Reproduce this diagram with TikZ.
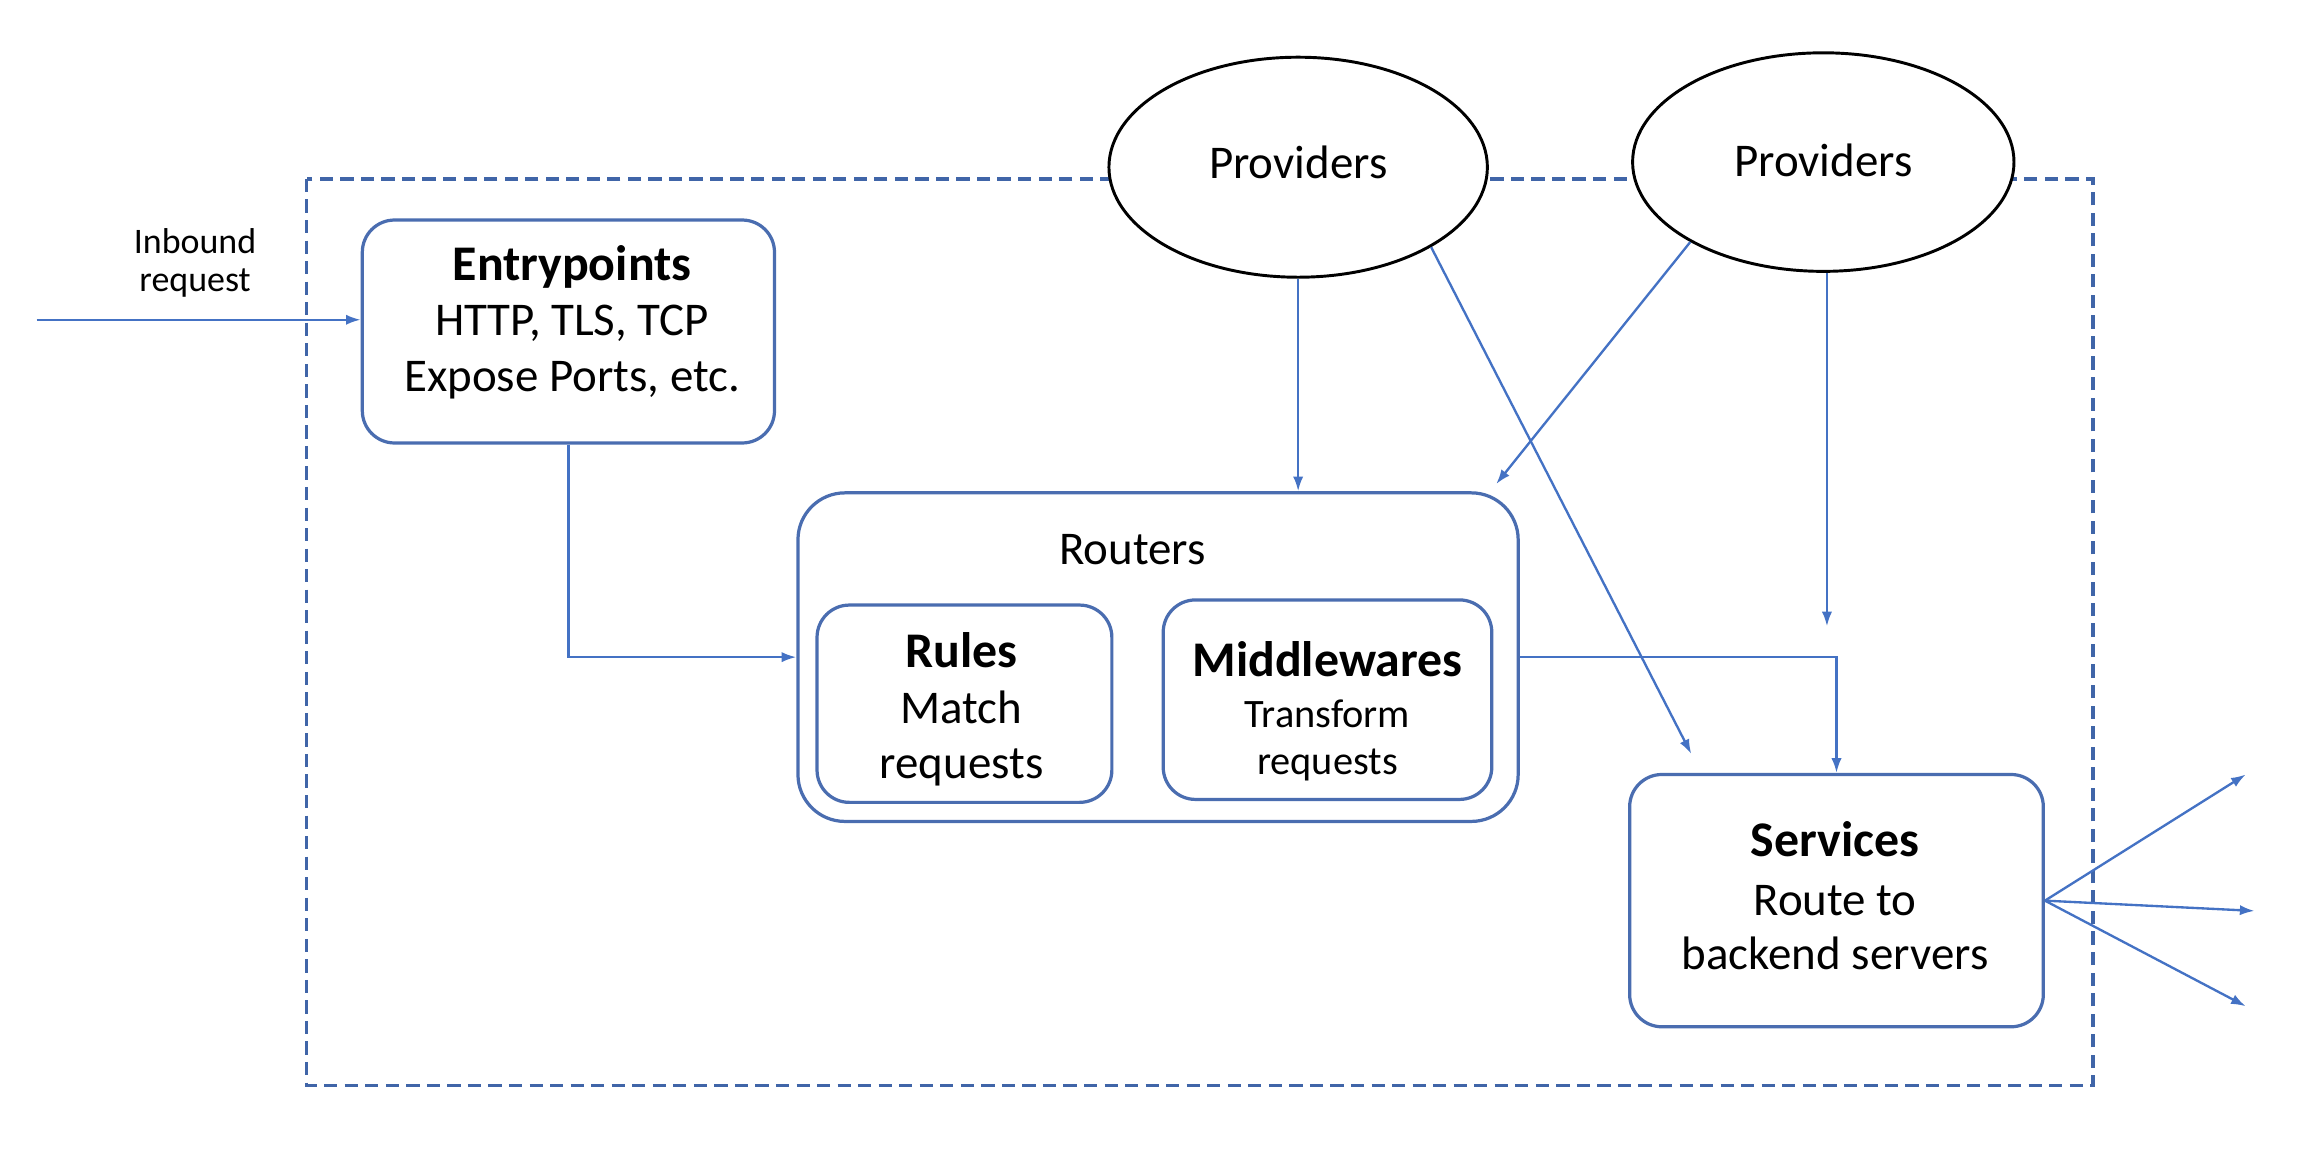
\documentclass[tikz,border=0pt]{standalone}
\usepackage{fontspec}
\setmainfont{Carlito}
\usetikzlibrary{arrows.meta,calc,shapes.geometric}
\definecolor{boxblue}{HTML}{4A6DB0}
\definecolor{arrblue}{HTML}{4472C4}
\definecolor{dashblue}{HTML}{4065A8}
\tikzset{
  rbox/.style={draw=boxblue, line width=2.2pt, rounded corners=22pt, fill=white, inner sep=0pt},
  txt/.style={align=center, inner sep=0pt, anchor=base, font=\fontsize{32}{38}\selectfont},
  arr/.style={draw=arrblue, line width=1.6pt, -{Latex[length=10pt,width=7pt]}},
  prov/.style={draw=black, line width=2pt, ellipse, fill=white, inner sep=0pt},
  frame/.style={draw=dashblue, line width=2.4pt, dash pattern=on 9pt off 5pt}
}
\newcommand{\bt}[1]{{\fontsize{34}{38}\selectfont\bfseries #1}}
\begin{document}
\begin{tikzpicture}[x=1pt,y=-1pt]
\useasboundingbox (0,0) rectangle (1568,783);
% frame
\draw[frame] (209,122) rectangle (1427,740);
% providers
\node[prov, minimum width=258pt, minimum height=150pt] (p1) at (885,114) {};
\node[txt] (p1t) at (885,122) {Providers};
\node[prov, minimum width=260pt, minimum height=149pt] (p2) at (1243,110.5) {};
\node[txt] (p2t) at (1243,120) {Providers};
% entrypoints
\node[rbox, minimum width=281pt, minimum height=152pt] (ep) at (387.5,226) {};
\node[txt] (ept) at (390,267) {\bt{Entrypoints}\\HTTP, TLS, TCP\\Expose Ports, etc.};
% inbound label
\node[txt, font=\fontsize{24.5}{26}\selectfont] (inl) at (133,199) {Inbound\\request};
% routers
\node[rbox, rounded corners=32pt, minimum width=491pt, minimum height=224pt] (rt) at (789.5,448) {};
\node[txt] (rtt) at (772,385) {Routers};
\node[rbox, minimum width=201pt, minimum height=134.5pt] (ru) at (657.5,479.75) {};
\node[txt] (rut) at (655.5,531) {\bt{Rules}\\Match\\requests};
\node[rbox, minimum width=224pt, minimum height=136pt] (mw) at (905,477) {};
\node[txt, font=\fontsize{27.5}{32}\selectfont] (mwt) at (905,528) {\bt{Middlewares}\\[3pt]Transform\\requests};
% services
\node[rbox, minimum width=282pt, minimum height=172pt] (svc) at (1252,614) {};
\node[txt, font=\fontsize{32}{37}\selectfont] (svct) at (1251,661) {\bt{Services}\\[3pt]Route to\\backend servers};
% coordinates
\coordinate (inS) at (25,218);
\coordinate (p1e) at (1153,514);
\coordinate (p2e) at (1020,330);
\coordinate (p2d) at (1245.5,427);
\coordinate (o1) at (1531,528);
\coordinate (o2) at (1537,621);
\coordinate (o3) at (1531,686);
% connectors
\draw[arr] (inS) -- (inS -| ep.west);
\draw[arr] (ep.south) |- (rt.west);
\draw[arr] (p1.south) -- (p1.south |- rt.north);
\draw[arr] (p1.-31) -- (p1e);
\draw[arr] (p2.-149) -- (p2e);
\draw[arr] (p2.south -| p2d) -- (p2d);
\draw[arr] (rt.east) -| (svc.north);
\draw[arr] (svc.east) -- (o1);
\draw[arr] (svc.east) -- (o2);
\draw[arr] (svc.east) -- (o3);
\end{tikzpicture}
\end{document}
